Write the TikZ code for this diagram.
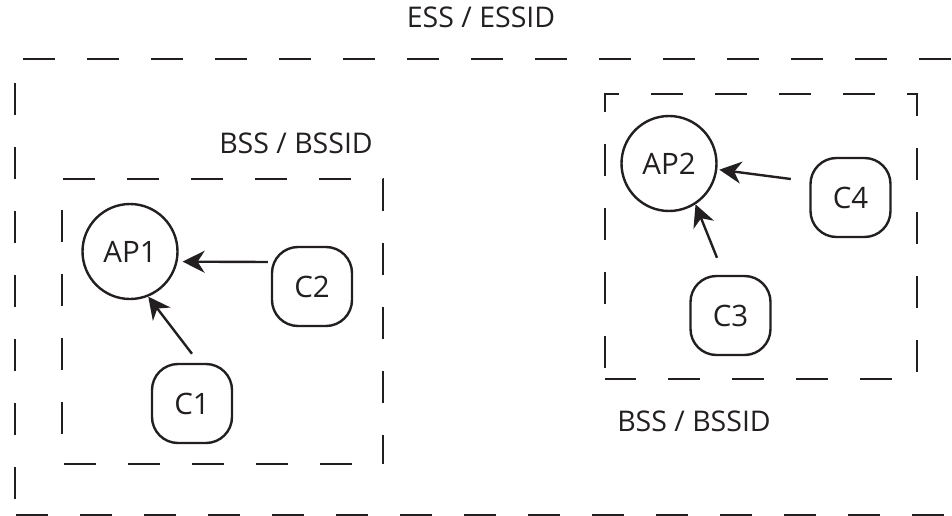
\documentclass[tikz,border=0pt]{standalone}
\usepackage{fontspec}
\setmainfont{Open Sans}
\usetikzlibrary{arrows.meta}
\definecolor{ink}{RGB}{35,31,32}
\begin{document}
\begin{tikzpicture}[x=1pt,y=-1pt,
  dashline/.style={draw=ink, line width=2.8pt, dash pattern=on 32pt off 32pt},
  lblfont/.style={font=\fontsize{28.5}{31}\selectfont},
  nodefont/.style={font=\fontsize{29.5}{32}\selectfont},
  ap/.style={circle, draw=ink, line width=2.4pt, minimum size=95pt, inner sep=0pt, text=ink, nodefont},
  cl/.style={rectangle, rounded corners=26pt, draw=ink, line width=2.4pt, minimum width=80pt, minimum height=79pt, inner sep=0pt, text=ink, nodefont},
  arr/.style={draw=ink, line width=2.4pt, -{Stealth[length=22pt,width=22pt,inset=7pt]}},
  lbl/.style={anchor=base, inner sep=0pt, text=ink, lblfont}]
\useasboundingbox (0,0) rectangle (952,516);
\clip (0,0) rectangle (952,516);
% ESS box (extends beyond the right edge)
\draw[dashline, dash phase=48pt] (15,515) -- (15,59) -- (980,59);
\draw[dashline, dash phase=63pt] (15,515) -- (980,515);
% BSS boxes
\draw[dashline, dash phase=3pt] (383,464) -- (383,179) -- (62,179) -- (62,464) -- cycle;
\draw[dashline, dash phase=53pt] (605,379) -- (605,94) -- (917,94) -- (917,379) -- cycle;
% labels
\node[lbl] (ess) at (481,28) {ESS / ESSID};
\node[lbl] (bss1) at (296,153) {BSS / BSSID};
\node[lbl] (bss2) at (694,431) {BSS / BSSID};
% nodes
\node[ap] (AP1) at (130,251.5) {AP1};
\node[cl] (C2) at (312,286.5) {C2};
\node[cl] (C1) at (192,403.5) {C1};
\node[ap] (AP2) at (669,163.5) {AP2};
\node[cl] (C4) at (850.5,197.5) {C4};
\node[cl] (C3) at (730.5,315.5) {C3};
% arrow tails
\coordinate (t2) at ([xshift=-3pt,yshift=24.5pt]C2.west);
\coordinate (t1) at ([yshift=9pt]C1.north);
\coordinate (t4) at ([xshift=-18.5pt,yshift=18.5pt]C4.west);
\coordinate (t3) at ([xshift=-13.5pt,yshift=17pt]C3.north);
% arrows
\draw[arr, shorten >=5pt] (t2) -- (AP1.-12);
\draw[arr] (t1) -- (AP1.-68);
\draw[arr, shorten >=2pt] (t4) -- (AP2.-7);
\draw[arr] (t3) -- (AP2.-57);
\end{tikzpicture}
\end{document}
